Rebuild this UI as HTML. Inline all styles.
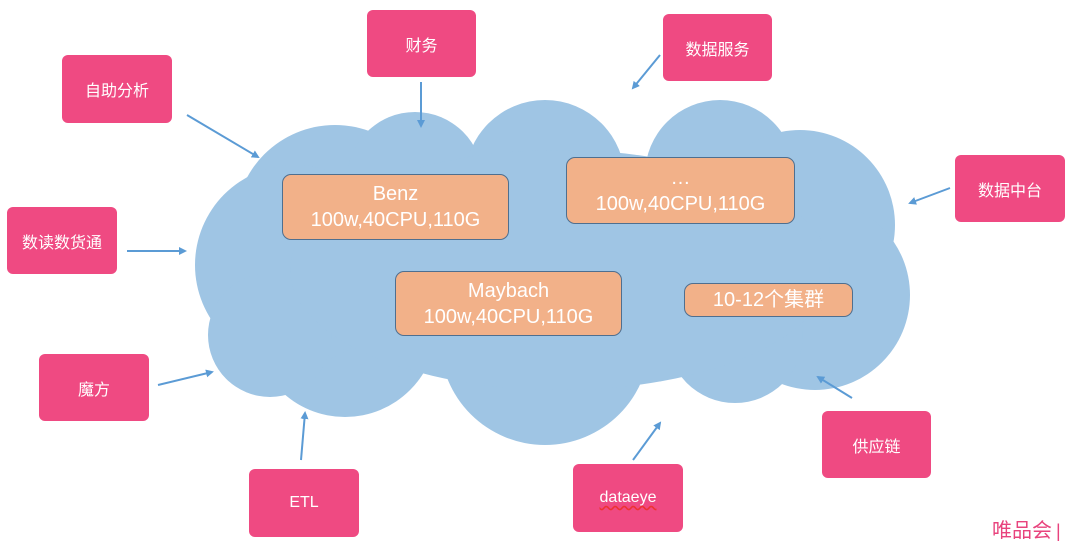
<!DOCTYPE html>
<html><head><meta charset="utf-8"><style>
html,body{margin:0;padding:0;background:#fff;}
body{width:1080px;height:550px;position:relative;overflow:hidden;font-family:"Liberation Sans","Noto Sans CJK SC",sans-serif;}
.p{position:absolute;background:#ef4a82;border-radius:6px;color:#fff;font-size:16px;display:flex;align-items:center;justify-content:center;}
.o{position:absolute;background:#f2b189;border:1.5px solid #4f6f8f;border-radius:9px;color:#fff;font-size:20px;text-align:center;line-height:26px;display:flex;flex-direction:column;align-items:center;justify-content:center;box-sizing:border-box;}
</style></head><body>
<svg width="1080" height="550" style="position:absolute;left:0;top:0">
<defs><marker id="a" markerWidth="8" markerHeight="8" refX="6" refY="4" orient="auto" markerUnits="userSpaceOnUse"><path d="M0,0 L8,4 L0,8 z" fill="#5b9bd5"/></marker></defs>
<g fill="#9fc5e4">
<circle cx="335" cy="225" r="100"/>
<circle cx="415" cy="180" r="68"/>
<circle cx="545" cy="180" r="80"/>
<circle cx="720" cy="175" r="75"/>
<circle cx="800" cy="225" r="95"/>
<circle cx="815" cy="295" r="95"/>
<circle cx="735" cy="335" r="68"/>
<circle cx="545" cy="340" r="105"/>
<circle cx="345" cy="325" r="92"/>
<circle cx="295" cy="265" r="100"/>
<circle cx="270" cy="335" r="62"/>
<ellipse cx="560" cy="270" rx="270" ry="120"/>
</g>
<g stroke="#5b9bd5" stroke-width="2" marker-end="url(#a)">
<line x1="187" y1="115" x2="258" y2="157"/>
<line x1="421" y1="82" x2="421" y2="126"/>
<line x1="660" y1="55" x2="633" y2="88"/>
<line x1="950" y1="188" x2="910" y2="203"/>
<line x1="127" y1="251" x2="185" y2="251"/>
<line x1="158" y1="385" x2="212" y2="372"/>
<line x1="301" y1="460" x2="305" y2="413"/>
<line x1="633" y1="460" x2="660" y2="423"/>
<line x1="852" y1="398" x2="818" y2="377"/>
</g>
</svg>
<div class="p" style="left:62px;top:55px;width:110px;height:68px">自助分析</div>
<div class="p" style="left:367px;top:10px;width:109px;height:67px">财务</div>
<div class="p" style="left:663px;top:14px;width:109px;height:67px">数据服务</div>
<div class="p" style="left:955px;top:155px;width:110px;height:67px">数据中台</div>
<div class="p" style="left:7px;top:207px;width:110px;height:67px">数读数货通</div>
<div class="p" style="left:39px;top:354px;width:110px;height:67px">魔方</div>
<div class="p" style="left:249px;top:469px;width:110px;height:68px">ETL</div>
<div class="p" style="left:573px;top:464px;width:110px;height:68px"><span style="text-decoration:underline wavy #e33;text-underline-offset:3px">dataeye</span></div>
<div class="p" style="left:822px;top:411px;width:109px;height:67px">供应链</div>
<div class="o" style="left:282px;top:174px;width:227px;height:66px"><div>Benz</div><div>100w,40CPU,110G</div></div>
<div class="o" style="left:566px;top:157px;width:229px;height:67px"><div>…</div><div>100w,40CPU,110G</div></div>
<div class="o" style="left:395px;top:271px;width:227px;height:65px"><div>Maybach</div><div>100w,40CPU,110G</div></div>
<div class="o" style="left:684px;top:283px;width:169px;height:34px">10-12个集群</div>
<div style="position:absolute;left:992px;top:519px;color:#e8437d;font-size:20px;line-height:24px">唯品会<span style="font-size:18px;margin-left:4px">|</span></div>
</body></html>
